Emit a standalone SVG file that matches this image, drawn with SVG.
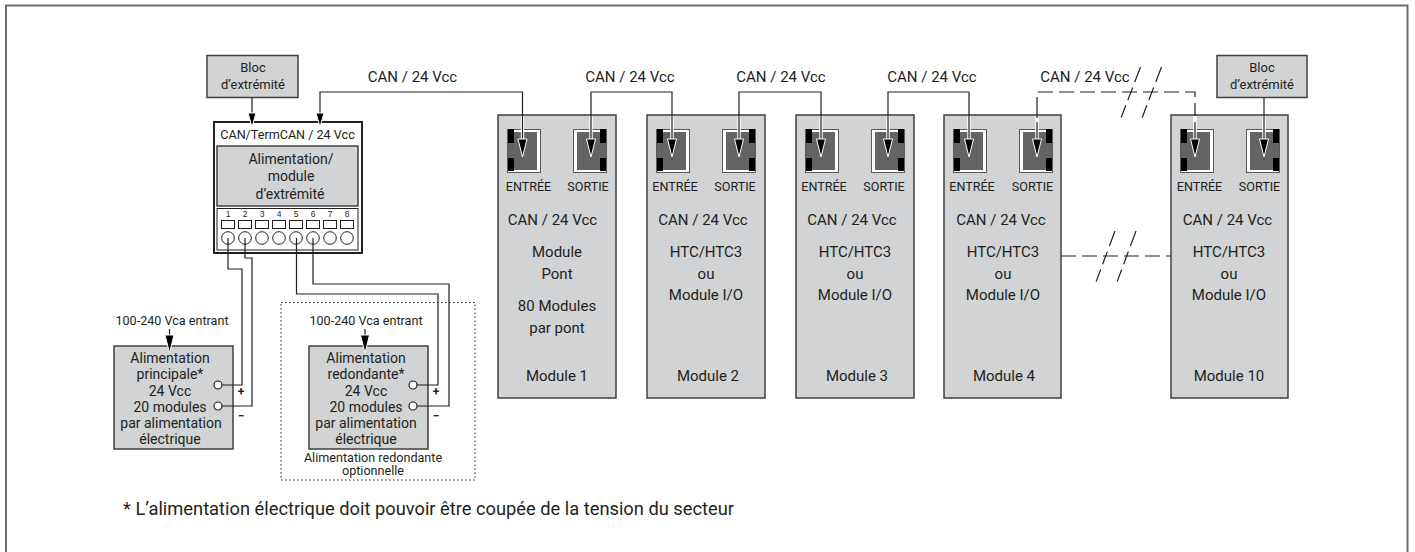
<svg xmlns="http://www.w3.org/2000/svg" width="1415" height="552" viewBox="0 0 1415 552">
<style>
text{font-family:"Roboto","Liberation Sans",sans-serif;fill:#231f20;text-anchor:middle}
.s{font-size:12.6px}.b{font-size:13px}.l{font-size:15px}.p{font-size:14px}.q{font-size:12.6px}
.pn{font-size:8.5px;font-family:"Liberation Sans",sans-serif}
.pm{font-size:12px;font-weight:700}
.g{fill:#d1d3d4;stroke:#414042;stroke-width:1.5}
.w{fill:none;stroke:#231f20;stroke-width:1.2}
.h{fill:none;stroke:#fff;stroke-width:3.4}
.d{stroke-dasharray:15 6}
.sl{stroke-dasharray:16 6 13.500 5.500 13}
.a{fill:#000;stroke:#fff;stroke-width:1}
.o{fill:#fff;stroke:#231f20;stroke-width:1.200}
</style>
<defs>
<g id="portL"><rect x="9.500" y="14.500" width="33" height="43" fill="#fff" stroke="#58595b"/><rect x="13" y="17" width="26" height="38" fill="#636466"/><rect x="10" y="28" width="4" height="15" fill="#636466"/><rect x="10" y="14" width="6" height="14" fill="#000"/><rect x="10" y="43" width="6" height="13" fill="#000"/></g>
<g id="portR"><rect x="75.500" y="14.500" width="33" height="43" fill="#fff" stroke="#58595b"/><rect x="79" y="17" width="26" height="38" fill="#636466"/><rect x="104" y="28" width="4" height="15" fill="#636466"/><rect x="102" y="14" width="6" height="14" fill="#000"/><rect x="102" y="43" width="6" height="13" fill="#000"/></g>
<path id="arr" class="a" d="M-4.500 0H4.500L0 18Z"/>
<path id="arrs" class="a" d="M-4 0H4L0 14Z"/>
</defs>
<rect width="1415" height="552" fill="#fff"/>
<path d="M6 552V5.500H1407.500V552" fill="none" stroke="#6d6e71" stroke-width="2"/>
<g id="bloc1"><rect class="g" x="207" y="55.500" width="91" height="42" stroke-width="2"/><text class="b" x="253" y="72">Bloc</text><text class="b" x="253" y="89">d’extrémité</text></g>
<g id="power-module">
<rect x="214" y="122" width="148" height="131" fill="#fff" stroke="#231f20" stroke-width="2"/>
<text class="s" x="287.500" y="139">CAN/TermCAN / 24 Vcc</text>
<rect class="g" x="217" y="146" width="141" height="60"/>
<text class="p" x="291" y="164">Alimentation/</text><text class="p" x="291" y="181">module</text><text class="p" x="290" y="199">d’extrémité</text>
<rect x="217" y="208.500" width="141" height="41.500" fill="#fff" stroke="#231f20"/>
<g fill="#fff" stroke="#231f20">
<rect x="221.500" y="220.500" width="13" height="8"/><rect x="238.500" y="220.500" width="13" height="8"/><rect x="255.500" y="220.500" width="13" height="8"/><rect x="272.500" y="220.500" width="13" height="8"/><rect x="289.500" y="220.500" width="13" height="8"/><rect x="306.500" y="220.500" width="13" height="8"/><rect x="323.500" y="220.500" width="13" height="8"/><rect x="340.500" y="220.500" width="13" height="8"/>
<circle cx="228" cy="238" r="6.300"/><circle cx="245" cy="238" r="6.300"/><circle cx="262" cy="238" r="6.300"/><circle cx="279" cy="238" r="6.300"/><circle cx="296" cy="238" r="6.300"/><circle cx="313" cy="238" r="6.300"/><circle cx="330" cy="238" r="6.300"/><circle cx="347" cy="238" r="6.300"/>
</g>
<text class="pn" x="228" y="217">1</text><text class="pn" x="245" y="217">2</text><text class="pn" x="262" y="217">3</text><text class="pn" x="279" y="217">4</text><text class="pn" x="296" y="217">5</text><text class="pn" x="313" y="217">6</text><text class="pn" x="330" y="217">7</text><text class="pn" x="347" y="217">8</text>
</g>
<g id="psu-main">
<text class="q" x="172" y="325">100-240 Vca entrant</text>
<rect class="g" x="114" y="346" width="119" height="103"/>
<text class="p" x="170" y="363">Alimentation</text><text class="p" x="170" y="379">principale*</text><text class="p" x="170" y="396">24 Vcc</text><text class="p" x="170" y="412">20 modules</text><text class="p" x="171" y="428">par alimentation</text><text class="p" x="170" y="444">électrique</text>
<circle class="o" cx="218" cy="385" r="4"/><circle class="o" cx="218" cy="406" r="4"/>
<text class="pm" x="241" y="396">+</text><text class="pm" x="241" y="420">−</text>
</g>
<g id="psu-redundant">
<rect x="281" y="302.500" width="194" height="177.500" fill="none" stroke="#231f20" stroke-dasharray="1.500 2.500"/>
<text class="q" x="366" y="325">100-240 Vca entrant</text>
<rect class="g" x="309" y="346" width="119" height="103"/>
<text class="p" x="366" y="363">Alimentation</text><text class="p" x="366" y="379">redondante*</text><text class="p" x="366" y="396">24 Vcc</text><text class="p" x="366" y="412">20 modules</text><text class="p" x="366" y="428">par alimentation</text><text class="p" x="366" y="444">électrique</text>
<circle class="o" cx="413" cy="385" r="4"/><circle class="o" cx="413" cy="406" r="4"/>
<text class="pm" x="436" y="396">+</text><text class="pm" x="436" y="420">−</text>
<text class="s" x="373" y="462">Alimentation redondante</text><text class="s" x="373" y="475">optionnelle</text>
</g>
<g id="module1" transform="translate(498 115)"><rect class="g" width="118" height="283"/><use href="#portL"/><use href="#portR"/><text class="s" x="30.500" y="76">ENTRÉE</text><text class="s" x="90" y="76">SORTIE</text><text class="l" x="54.500" y="110">CAN / 24 Vcc</text><text class="l" x="59" y="142">Module</text><text class="l" x="59" y="164">Pont</text><text class="l" x="59" y="196">80 Modules</text><text class="l" x="59" y="218">par pont</text><text class="l" x="59" y="266">Module 1</text></g>
<g id="module2" transform="translate(647 115)"><rect class="g" width="118" height="283"/><use href="#portL"/><use href="#portR"/><text class="s" x="28" y="76">ENTRÉE</text><text class="s" x="88" y="76">SORTIE</text><text class="l" x="56" y="110">CAN / 24 Vcc</text><text class="l" x="59" y="142">HTC/HTC3</text><text class="l" x="59" y="164">ou</text><text class="l" x="59" y="185">Module I/O</text><text class="l" x="61" y="266">Module 2</text></g>
<g id="module3" transform="translate(796 115)"><rect class="g" width="118" height="283"/><use href="#portL"/><use href="#portR"/><text class="s" x="28" y="76">ENTRÉE</text><text class="s" x="88" y="76">SORTIE</text><text class="l" x="56" y="110">CAN / 24 Vcc</text><text class="l" x="59" y="142">HTC/HTC3</text><text class="l" x="59" y="164">ou</text><text class="l" x="59" y="185">Module I/O</text><text class="l" x="61" y="266">Module 3</text></g>
<g id="module4" transform="translate(944 115)"><rect class="g" width="117" height="283"/><use href="#portL"/><use href="#portR"/><text class="s" x="28" y="76">ENTRÉE</text><text class="s" x="88.500" y="76">SORTIE</text><text class="l" x="57" y="110">CAN / 24 Vcc</text><text class="l" x="59" y="142">HTC/HTC3</text><text class="l" x="59" y="164">ou</text><text class="l" x="59" y="185">Module I/O</text><text class="l" x="60" y="266">Module 4</text></g>
<g id="module10" transform="translate(1171 115)"><rect class="g" width="117" height="283"/><use href="#portL"/><use href="#portR"/><text class="s" x="28.500" y="76">ENTRÉE</text><text class="s" x="88.500" y="76">SORTIE</text><text class="l" x="56.500" y="110">CAN / 24 Vcc</text><text class="l" x="58" y="142">HTC/HTC3</text><text class="l" x="58" y="164">ou</text><text class="l" x="58" y="185">Module I/O</text><text class="l" x="58" y="266">Module 10</text></g>
<g id="bloc2"><rect class="g" x="1217" y="55.500" width="90" height="42" stroke-width="2"/><text class="b" x="1262" y="72">Bloc</text><text class="b" x="1262" y="89">d’extrémité</text></g>
<g id="labels">
<text class="l" x="412.500" y="82">CAN / 24 Vcc</text><text class="l" x="630" y="82">CAN / 24 Vcc</text><text class="l" x="781" y="82">CAN / 24 Vcc</text><text class="l" x="932" y="82">CAN / 24 Vcc</text><text class="l" x="1085" y="82">CAN / 24 Vcc</text>
<text x="428.500" y="515" style="font-size:18.300px">* L’alimentation électrique doit pouvoir être coupée de la tension du secteur</text>
</g>
<g id="connectors">
<path class="h" d="M522.500 116V139M591 116V139M672 116V139M739 116V139M821 116V139M888 116V139M969 116V139M1037 116V139M1195 116V139M1264 116V139"/>
<path class="w" d="M252 98V113M320 113V92H522.500V139M591 139V92H672V139M739 139V92H821V139M888 139V92H969V139"/>
<path class="w d" d="M1038 92H1195V116"/>
<path class="w" d="M1037 97V118M1037 122V139M1195 122V139"/>
<path class="w d" d="M1061 256H1171"/>
<path class="w" d="M1264 98V139"/>
<path class="w sl" d="M1140.500 67L1121 118M1161.500 67L1142 118M1115 231L1096 282M1136 231L1117 282"/>
<path class="w" d="M228 238V269H242V385H222M245 238V258H252V406H222M296.500 238V294H438V385H417M313 238V284H449V406H417"/>
<path class="w" d="M169.500 329V336M365 329V336"/>
<use href="#arrs" transform="translate(252 113)"/><use href="#arrs" transform="translate(320 113)"/>
<use href="#arr" transform="translate(169.500 335)"/><use href="#arr" transform="translate(365 335)"/>
<use href="#arr" transform="translate(522.500 139)"/><use href="#arr" transform="translate(591 139)"/><use href="#arr" transform="translate(672 139)"/><use href="#arr" transform="translate(739 139)"/><use href="#arr" transform="translate(821 139)"/><use href="#arr" transform="translate(888 139)"/><use href="#arr" transform="translate(969 139)"/><use href="#arr" transform="translate(1037 139)"/><use href="#arr" transform="translate(1195 139)"/><use href="#arr" transform="translate(1264 139)"/>
</g>
</svg>
